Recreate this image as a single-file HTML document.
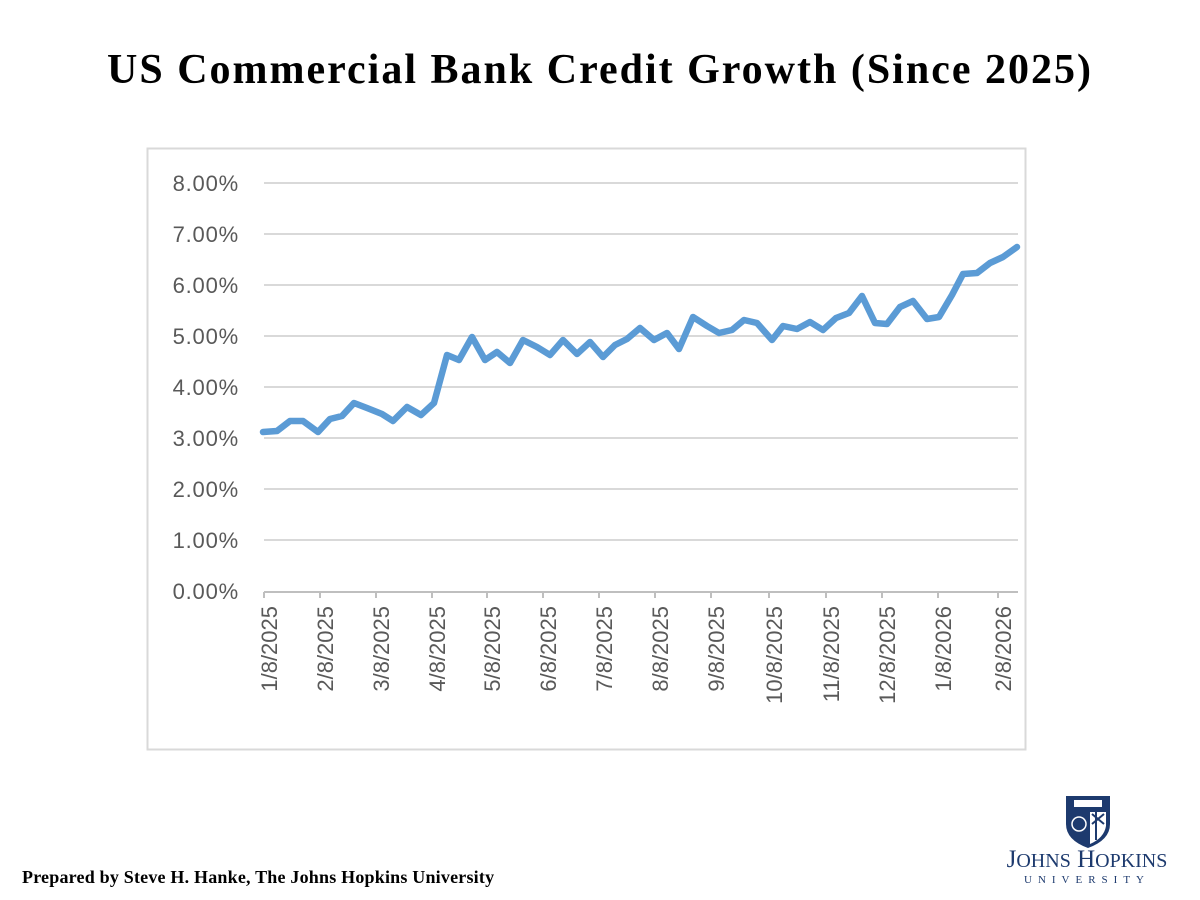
<!DOCTYPE html>
<html><head><meta charset="utf-8"><style>
body{margin:0;background:#fff;width:1200px;height:900px;overflow:hidden;position:relative}
.t{position:absolute;left:0;width:1200px;top:46px;text-align:center;font:bold 42px "Liberation Serif",serif;letter-spacing:2px;color:#000}
.f{position:absolute;left:22px;top:867px;font:bold 18px "Liberation Serif",serif;letter-spacing:0.2px;color:#000}
</style></head><body>
<div class="t">US Commercial Bank Credit Growth (Since 2025)</div>
<svg width="1200" height="900" style="position:absolute;left:0;top:0">
<rect x="147.5" y="148.5" width="878" height="601" fill="none" stroke="#d9d9d9" stroke-width="2"/>
<g stroke="#d9d9d9" stroke-width="2">
<line x1="264" x2="1018" y1="183" y2="183"/><line x1="264" x2="1018" y1="234" y2="234"/>
<line x1="264" x2="1018" y1="285" y2="285"/><line x1="264" x2="1018" y1="336" y2="336"/>
<line x1="264" x2="1018" y1="387" y2="387"/><line x1="264" x2="1018" y1="438" y2="438"/>
<line x1="264" x2="1018" y1="489" y2="489"/><line x1="264" x2="1018" y1="540" y2="540"/>
</g>
<g stroke="#bfbfbf" stroke-width="2">
<line x1="264" x2="1018" y1="592" y2="592"/>
<line x1="264" x2="264" y1="592" y2="598"/><line x1="320" x2="320" y1="592" y2="598"/>
<line x1="376" x2="376" y1="592" y2="598"/><line x1="432" x2="432" y1="592" y2="598"/>
<line x1="487" x2="487" y1="592" y2="598"/><line x1="543" x2="543" y1="592" y2="598"/>
<line x1="599" x2="599" y1="592" y2="598"/><line x1="655" x2="655" y1="592" y2="598"/>
<line x1="711" x2="711" y1="592" y2="598"/><line x1="769" x2="769" y1="592" y2="598"/>
<line x1="826" x2="826" y1="592" y2="598"/><line x1="882" x2="882" y1="592" y2="598"/>
<line x1="938" x2="938" y1="592" y2="598"/><line x1="998" x2="998" y1="592" y2="598"/>
</g>
<g font-family="Liberation Sans,sans-serif" font-size="22" letter-spacing="0.8" fill="#595959" text-anchor="end">
<text x="239" y="191">8.00%</text><text x="239" y="242">7.00%</text><text x="239" y="293">6.00%</text>
<text x="239" y="344">5.00%</text><text x="239" y="395">4.00%</text><text x="239" y="446">3.00%</text>
<text x="239" y="497">2.00%</text><text x="239" y="548">1.00%</text><text x="239" y="599">0.00%</text>
</g>
<g font-family="Liberation Sans,sans-serif" font-size="22" fill="#595959" text-anchor="end">
<text transform="translate(277,606) rotate(-90)">1/8/2025</text>
<text transform="translate(333,606) rotate(-90)">2/8/2025</text>
<text transform="translate(389,606) rotate(-90)">3/8/2025</text>
<text transform="translate(445,606) rotate(-90)">4/8/2025</text>
<text transform="translate(500,606) rotate(-90)">5/8/2025</text>
<text transform="translate(556,606) rotate(-90)">6/8/2025</text>
<text transform="translate(612,606) rotate(-90)">7/8/2025</text>
<text transform="translate(668,606) rotate(-90)">8/8/2025</text>
<text transform="translate(724,606) rotate(-90)">9/8/2025</text>
<text transform="translate(782,606) rotate(-90)">10/8/2025</text>
<text transform="translate(839,606) rotate(-90)">11/8/2025</text>
<text transform="translate(895,606) rotate(-90)">12/8/2025</text>
<text transform="translate(951,606) rotate(-90)">1/8/2026</text>
<text transform="translate(1011,606) rotate(-90)">2/8/2026</text>
</g>
<polyline fill="none" stroke="#5b9bd5" stroke-width="6.5" stroke-linejoin="round" stroke-linecap="round" points="263,432 277,431 290,421 303,421 318,432 330,419 342,416 354,403 367,408 382,414 393,421 407,407 421,415 434,403 447,355 459,360 472,337 485,360 497,352 510,363 523,340 537,347 550,355 563,340 577,354 590,342 603,357 615,345 627,339 640,328 654,340 667,333 679,349 693,317 707,326 719,333 732,330 744,320 757,323 772,340 783,326 797,329 810,322 823,330 836,318 849,313 862,296 875,323 887,324 900,307 913,301 927,319 939,317 952,295 963,274 977,273 990,263 1003,257 1017,247"/>
<g transform="translate(1066,796)">
<path d="M0,0 H44 V28 Q44,44 22,52 Q0,44 0,28 Z" fill="#1d3a6e"/>
<rect x="8" y="4" width="28" height="7" fill="#fff"/>
<circle cx="13" cy="28" r="7" fill="none" stroke="#fff" stroke-width="1.5"/>
<path d="M24,16 L40,16 L40,30 Q38,42 24,48 Z" fill="#fff"/>
<path d="M26,18 L38,28 M26,28 L38,18 M30,16 V44" stroke="#1d3a6e" stroke-width="2"/>
</g>
<text x="1087" y="867" text-anchor="middle" font-family="Liberation Serif,serif" font-size="25" fill="#1d3a6e">J<tspan font-size="20">OHNS</tspan> H<tspan font-size="20">OPKINS</tspan></text>
<text x="1087" y="883" text-anchor="middle" font-family="Liberation Serif,serif" font-size="11" letter-spacing="6" fill="#1d3a6e">UNIVERSITY</text>
</svg>
<div class="f">Prepared by Steve H. Hanke, The Johns Hopkins University</div>
</body></html>
